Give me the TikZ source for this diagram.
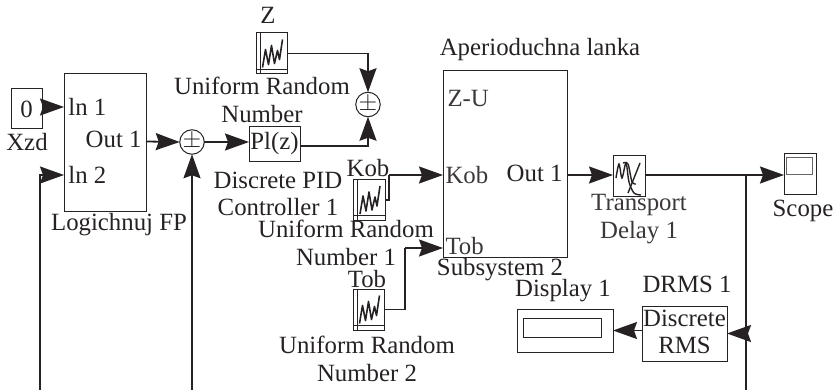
\documentclass[tikz,border=0pt]{standalone}
\usepackage{fontspec}
\setmainfont{Liberation Serif}
\usetikzlibrary{arrows.meta}
\definecolor{ink}{HTML}{262224}
\begin{document}
\begin{tikzpicture}[
        x=0.5pt, y=-0.5pt,
        ink, line width=0.5pt,
        >={Stealth[length=12pt, width=8.5pt, inset=1.5pt]},
        B/.style 2 args={draw=ink, minimum width=#1*0.5pt, minimum height=#2*0.5pt, inner sep=0pt, outer sep=0pt},
        S/.style={draw=ink, circle, minimum size=11.5pt, inner sep=0pt, outer sep=0pt},
        T/.style={inner sep=0pt, align=center, text=ink, font=\fontsize{12.4}{14}\selectfont},
        W/.style={line width=0.9pt},
        A/.style={W, ->}
    ]
    \useasboundingbox (0,0) rectangle (836,390);

    % blocks
    \node[B={31}{40}, T] (xzd) at (26.5,109) {0};
    \node[B={82}{138}] (lfp) at (105,143) {};
    \node[S, T] (sumx) at (192,142) {$\pm$};
    \node[B={51}{35}] (pid) at (274.5,144) {};
    \node[S, T] (sumz) at (368,104.5) {$\pm$};
    \node[B={31}{41}] (rndz) at (271.5,53.5) {};
    \node[B={32}{41}] (rndk) at (369,200) {};
    \node[B={31}{41}] (rndt) at (368.5,309.5) {};
    \node[B={124}{186}] (sub) at (505,164) {};
    \node[B={32}{41}] (delay) at (629,176) {};
    \node[B={32}{41}] (scope) at (800,174.5) {};
    \node[B={96}{43}] (disp) at (565,330.5) {};
    \node[B={78}{19}] (dispin) at (562,327.5) {};
    \node[B={85}{55}] (drms) at (684.5,333.5) {};
    \node[B={26}{17}, draw=ink!70] (scr) at (799,166.5) {};

    % texts
    \node[T] (tz) at (268,15) {Z};
    \node[T] (turz) at (262,100) {Uniform Random\\[-0.2pt]Number};
    \node[T] (txzd) at (27,142) {Xzd};
    \node[T] (tlfp) at (119,225) {Logichnuj FP};
    \node[T, anchor=west] (tin1) at (68,107) {ln 1};
    \node[T, anchor=west] (tin2) at (68,175) {ln 2};
    \node[T, anchor=east] (tout) at (142,139) {Out 1};
    \node[T] (tpi) at (274.5,144) {Pl(z)};
    \node[T] (tpid) at (278,194) {Discrete PID\\[-0.2pt]Controller 1};
    \node[T] (tkob) at (368,168) {Kob};
    \node[T] (turk) at (346,243) {Uniform Random\\[-0.2pt]Number 1};
    \node[T] (ttob) at (367,279) {Tob};
    \node[T] (turt) at (367,359) {Uniform Random\\[-0.2pt]Number 2};
    \node[T] (tap) at (540,50) {Aperioduchna lanka};
    \node[T, anchor=west, text=ink!90] (tzu) at (447,99) {Z-U};
    \node[T, anchor=west, text=ink!90] (tskob) at (445,175) {Kob};
    \node[T, anchor=east] (tsout) at (563,173) {Out 1};
    \node[T, anchor=west, text=ink!90] (tstob) at (445,246) {Tob};
    \node[T] (tsub) at (500,270) {Subsystem 2};
    \node[T, text=ink!90] (tdel) at (639,219) {Transport\\[-0.2pt]Delay 1};
    \node[T] (tsc) at (803,211) {Scope};
    \node[T] (tdi) at (563,291) {Display 1};
    \node[T] (tdr) at (687,284) {DRMS 1};
    \node[T] (tdm) at (684.5,332) {Discrete\\[-0.2pt]RMS};

    % free ends
    \coordinate (lfpin) at (64,107);
    \coordinate (lfpfb) at (64,175);
    \coordinate (lfpout) at (146,141.5);
    \coordinate (pidout) at (300,146);
    \coordinate (kobup) at (389,175);
    \coordinate (kobin) at (443,175);
    \coordinate (tobup) at (405,248);
    \coordinate (tobin) at (443,248);
    \coordinate (subout) at (567,175);
    \coordinate (fork) at (746,175);
    \coordinate (endl) at (40,390);
    \coordinate (endm) at (192,390);
    \coordinate (endr) at (746,390);

    % wires
    \draw[A] (xzd.east |- lfpin) -- (lfpin);
    \draw[A] (lfpout) -- (sumx.west);
    \draw[A] (sumx.east) -- (sumx.east -| pid.west);
    \draw[A] (rndz.east) -| (sumz.north);
    \draw[A] (pidout) -| (sumz.south);
    \draw[A] (endl) |- (lfpfb);
    \draw[A] (endm) -- (sumx.south);
    \draw[W] (rndk.east) -| (kobup);
    \draw[A] (kobup) -- (kobin);
    \draw[W] (rndt.east) -| (tobup);
    \draw[A] (tobup) -- (tobin);
    \draw[A] (subout) -- (subout -| delay.west);
    \draw[W] (delay.east |- fork) -- (fork);
    \draw[A] (fork) -- (fork -| scope.west);
    \draw[W] (fork) -- (endr);
    \draw[A] (fork |- drms.east) -- (drms.east);
    \draw[A] (drms.west |- disp.east) -- (disp.east);

    % block icons
    \foreach \blk in {rndz,rndk,rndt}{
        \draw[shift={(\blk.center)}] (-11.5,-20.5) -- (-11.5,20.5);
        \draw[shift={(\blk.center)}] (-15.5,16) -- (15.5,16);
        \draw[shift={(\blk.center)}, line width=0.8pt, line join=round]
            (-9,14) -- (-6,-4) -- (-3,11) -- (0,-8) -- (3,10) -- (6,-3) -- (8,6) -- (11,-14);
    }
    \draw[shift={(delay.center)}, line width=0.7pt] plot[smooth] coordinates
        {(-13,2) (-10,-12) (-7,2) (-3,-13) (0,6) (5,17) (12,19)};
    \draw[shift={(delay.center)}, line width=0.7pt] (-1,17) -- (11,-13);
    \draw[shift={(delay.center)}, line width=0.7pt] plot[smooth] coordinates
        {(-6,-13) (-1,-12) (3,6) (7,8)};
\end{tikzpicture}
\end{document}
